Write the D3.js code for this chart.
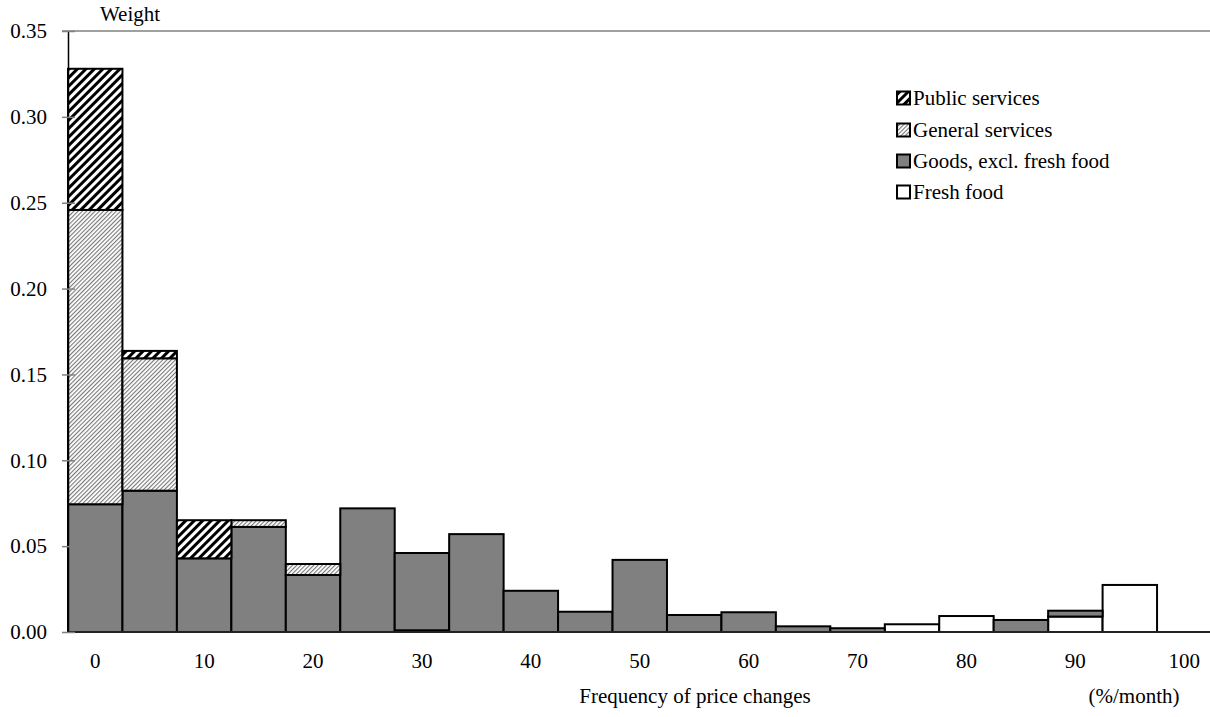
<!DOCTYPE html>
<html><head><meta charset="utf-8">
<script src="https://cdn.jsdelivr.net/npm/d3@7"></script>
<style>
body{margin:0;background:#fff}
svg text{font-family:"Liberation Serif","Times New Roman",serif;fill:#000}
</style>
</head><body>
<svg id="chart" width="1210" height="717" font-family="Liberation Serif"></svg>
<script>
// ---- data ----
const categories = [0,5,10,15,20,25,30,35,40,45,50,55,60,65,70,75,80,85,90,95,100];
const freshFood       = [0,0,0,0,0,0,0.001,0,0,0,0,0,0,0,0,0.0045,0.0093,0,0.009,0.0274,0];
const goodsExFresh    = [0.0744,0.0823,0.0429,0.0612,0.0332,0.072,0.045,0.057,0.024,0.0118,0.042,0.0099,0.0115,0.0033,0.0022,0,0,0.007,0.0034,0,0];
const generalServices = [0.1714,0.0771,0,0.0039,0.0064,0,0,0,0,0,0,0,0,0,0,0,0,0,0,0,0];
const publicServices  = [0.0822,0.0043,0.0222,0,0,0,0,0,0,0,0,0,0,0,0,0,0,0,0,0,0];
const seriesKeys   = ["fresh","goods","general","public"];
const seriesLabels = {public:"Public services", general:"General services", goods:"Goods, excl. fresh food", fresh:"Fresh food"};
const legendOrder  = ["public","general","goods","fresh"];
const yTickValues  = [0,0.05,0.10,0.15,0.20,0.25,0.30,0.35];
const xTickLabels  = [0,10,20,30,40,50,60,70,80,90,100];
const yTitle = "Weight";
const xTitle = "Frequency of price changes";
const xUnit  = "(%/month)";

// ---- layout ----
const FONT = "Liberation Serif", FS = 21;
const svg = d3.select("#chart");
const pLeft = 68, pRight = 1211.5, pTop = 31, pBottom = 632;
const x = d3.scaleBand().domain(categories).range([pLeft, pRight]).padding(0);
const y = d3.scaleLinear().domain([0, 0.35]).range([pBottom, pTop]);

// patterns
const defs = svg.append("defs");
const pPub = defs.append("pattern").attr("id","pat-public")
  .attr("patternUnits","userSpaceOnUse").attr("width",6).attr("height",6)
  .attr("patternTransform","rotate(45)");
pPub.append("rect").attr("width",6).attr("height",6).attr("fill","#fff");
pPub.append("rect").attr("x",0).attr("width",3).attr("height",6).attr("fill","#000");
const pGen = defs.append("pattern").attr("id","pat-general")
  .attr("patternUnits","userSpaceOnUse").attr("width",3).attr("height",3)
  .attr("patternTransform","rotate(45)");
pGen.append("rect").attr("width",3).attr("height",3).attr("fill","#fff");
pGen.append("rect").attr("x",0).attr("width",1.1).attr("height",3).attr("fill","#777");

const fills = {fresh:"#ffffff", goods:"#808080", general:"url(#pat-general)", public:"url(#pat-public)"};

// top border line
svg.append("line").attr("x1",62).attr("x2",1210).attr("y1",y(0.35)).attr("y2",y(0.35))
  .attr("stroke","#808080").attr("stroke-width",1.5);

// stacked bars
const rows = categories.map((c,i)=>({cat:c, fresh:freshFood[i], goods:goodsExFresh[i], general:generalServices[i], public:publicServices[i]}));
const stack = d3.stack().keys(seriesKeys)(rows);
svg.append("g").selectAll("g").data(stack).join("g")
  .attr("fill", d=>fills[d.key])
  .selectAll("rect").data(d=>d.filter(s=>s[1]-s[0]>0)).join("rect")
  .attr("x", d=>x(d.data.cat))
  .attr("width", x.bandwidth())
  .attr("y", d=>y(d[1]))
  .attr("height", d=>y(d[0])-y(d[1]))
  .attr("stroke","#000").attr("stroke-width",2);

// bottom axis
const xAxis = svg.append("g").attr("transform",`translate(0,${pBottom})`)
  .call(d3.axisBottom(x).tickValues(xTickLabels).tickSize(0).tickPadding(21));
xAxis.attr("font-family",FONT).attr("font-size",FS);
xAxis.select(".domain").attr("stroke","#222").attr("stroke-width",2).attr("d",`M${pLeft},0H1210`);

// left axis
const yAxis = svg.append("g").attr("transform",`translate(${pLeft},0)`)
  .call(d3.axisLeft(y).tickValues(yTickValues).tickFormat(d3.format(".2f")).tickSizeInner(6).tickSizeOuter(0).tickPadding(15));
yAxis.attr("font-family",FONT).attr("font-size",FS);
yAxis.select(".domain").attr("stroke","#000").attr("stroke-width",1.5);
yAxis.selectAll(".tick line").attr("x1",7).attr("stroke","#808080").attr("stroke-width",1.5);

// titles
svg.append("text").attr("x",130).attr("y",21).attr("text-anchor","middle").attr("font-size",FS).text(yTitle);
svg.append("text").attr("x",695).attr("y",703).attr("text-anchor","middle").attr("font-size",FS).text(xTitle);
svg.append("text").attr("x",1134).attr("y",703).attr("text-anchor","middle").attr("font-size",FS).text(xUnit);

// legend
const lg = svg.append("g").attr("transform","translate(896,0)");
const ly = [98,130,161,192];
legendOrder.forEach((k,i)=>{
  lg.append("rect").attr("x",1).attr("y",ly[i]-6.5).attr("width",13).attr("height",13)
    .attr("fill",fills[k]).attr("stroke","#000").attr("stroke-width",2);
  lg.append("text").attr("x",17).attr("y",ly[i]+7).attr("font-size",FS).text(seriesLabels[k]);
});
</script>
</body></html>
